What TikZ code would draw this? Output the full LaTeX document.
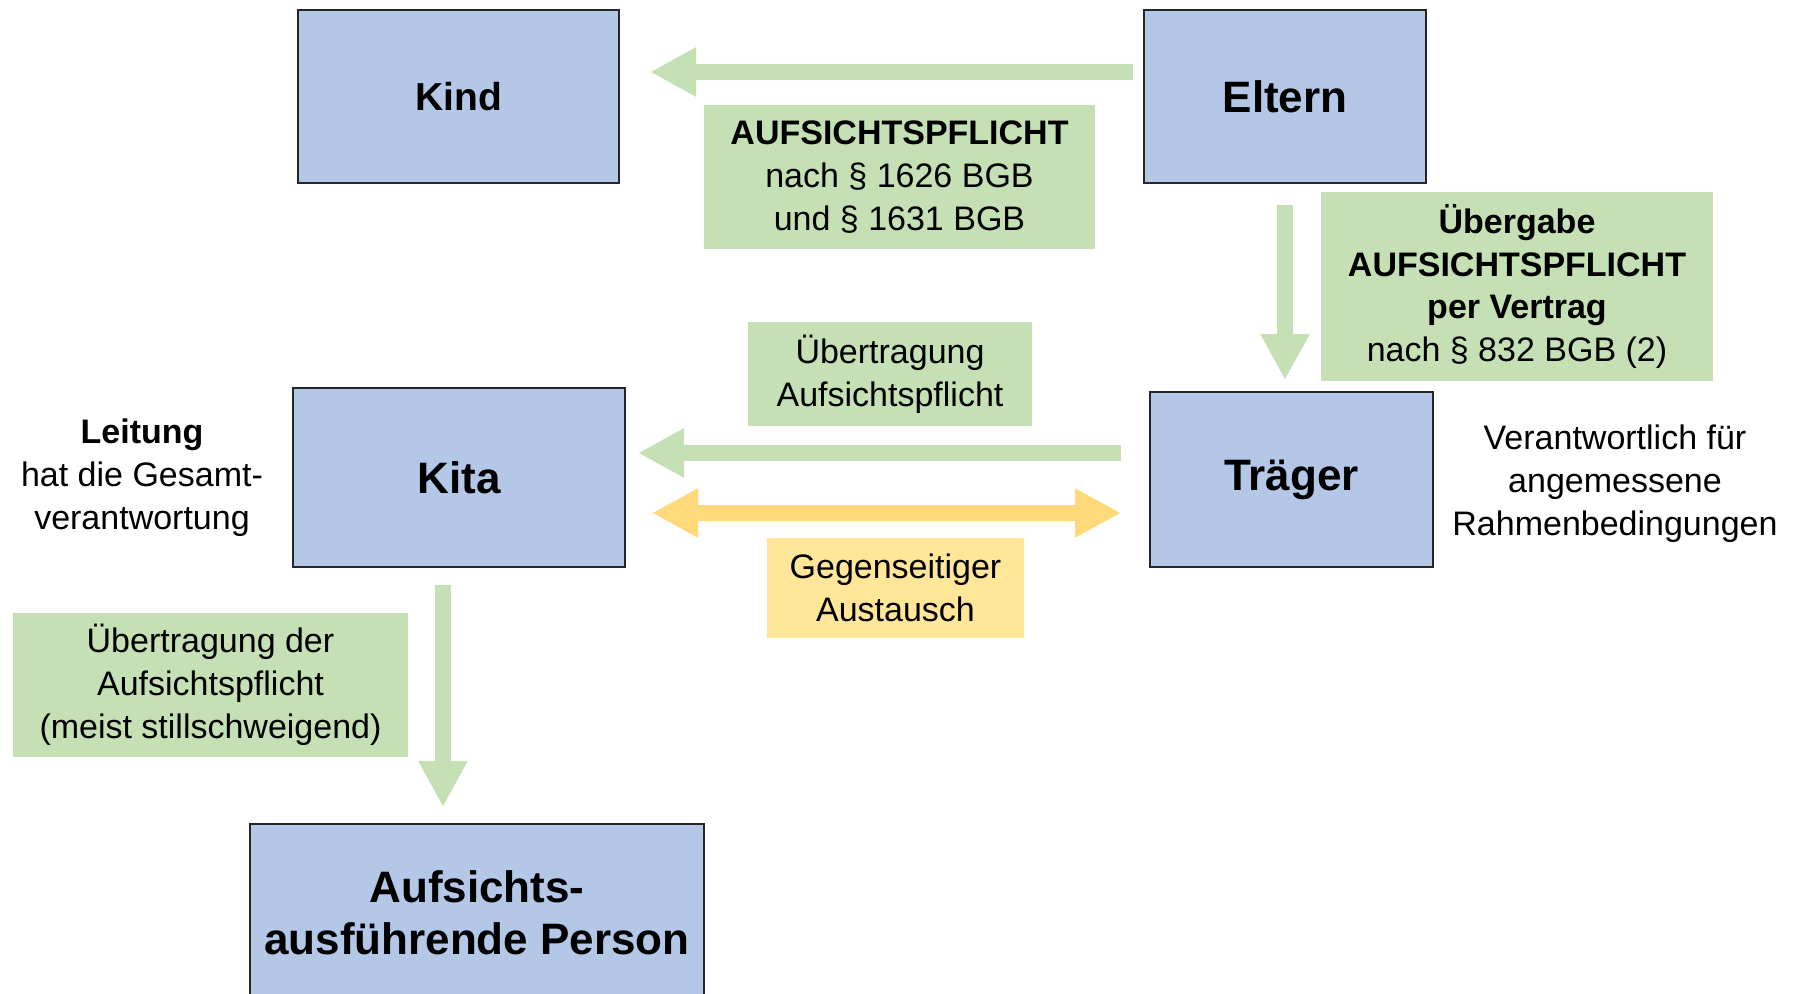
\documentclass[tikz,border=0pt]{standalone}
\usepackage{fontspec}
\setmainfont{Liberation Sans}
\usetikzlibrary{arrows.meta,calc,positioning}
\definecolor{boxblue}{HTML}{B4C7E7}
\definecolor{notegreen}{HTML}{C5E0B4}
\definecolor{noteyellow}{HTML}{FFE699}
\definecolor{arrowyellow}{HTML}{FFD97A}
\tikzset{
  partybox/.style={draw=black!85, line width=1pt, fill=boxblue, inner sep=0pt,
    align=center, font=\fontsize{22}{25.8}\selectfont\bfseries},
  notebox/.style={fill=notegreen, inner sep=0pt, align=center,
    font=\fontsize{17}{21.4}\selectfont},
  sidetext/.style={inner sep=0pt, align=center, font=\fontsize{17}{21.4}\selectfont},
  flow/.style={notegreen, line width=8pt, -{Triangle[length=23pt,width=23pt]}},
  exchange/.style={arrowyellow, line width=8pt,
    {Triangle[length=23pt,width=23pt]}-{Triangle[length=23pt,width=23pt]}},
}

\begin{document}
\begin{tikzpicture}[x=0.5pt, y=-0.5pt]
    \useasboundingbox (0,0) rectangle (1796,994);
    % Parties
    \node[partybox, minimum width=160.5pt, minimum height=86.5pt,
          font=\fontsize{19.5}{23}\selectfont\bfseries] (kind) at (458.5,96.5) {Kind};
    \node[partybox, minimum width=141pt, minimum height=86.5pt] (eltern) at (1285,96.5) {Eltern};
    \node[partybox, minimum width=166pt, minimum height=89.5pt] (kita) at (459,477.5) {Kita};
    \node[partybox, minimum width=141.5pt, minimum height=87.5pt] (traeger) at (1291.5,479.5) {Träger};
    \node[partybox, minimum width=227pt, minimum height=89pt] (person) at (477,913)
         {Aufsichts-\\ausführende Person};
    % Notes
    \node[notebox, minimum width=195.5pt, minimum height=72pt] (pflicht) at (899.5,177)
         {\textbf{AUFSICHTSPFLICHT}\\nach § 1626 BGB\\und § 1631 BGB};
    \node[notebox, minimum width=196pt, minimum height=94.5pt] (uebergabe) at (1517,286.5)
         {\textbf{Übergabe}\\\textbf{AUFSICHTSPFLICHT}\\\textbf{per Vertrag}\\nach § 832 BGB (2)};
    \node[notebox, minimum width=142pt, minimum height=52pt] (uebertragung) at (890,374)
         {Übertragung\\Aufsichtspflicht};
    \node[notebox, fill=noteyellow, minimum width=128.5pt, minimum height=50pt] (austausch) at (895.5,588)
         {Gegenseitiger\\Austausch};
    \node[notebox, minimum width=197.5pt, minimum height=72pt] (still) at (210.5,685)
         {Übertragung der\\Aufsichtspflicht\\(meist stillschweigend)};
    \node[sidetext] (leitung) at (142,478) {\textbf{Leitung}\\hat die Gesamt-\\verantwortung};
    \node[sidetext] (rahmen) at (1615,484) {Verantwortlich für\\angemessene\\Rahmenbedingungen};
    % Arrows
    \coordinate (eltern out) at ([yshift=12.25pt]eltern.west);
    \coordinate (traeger out) at ([yshift=13.25pt]traeger.west);
    \coordinate (traeger swap) at ([yshift=-16.75pt]traeger.west);
    \coordinate (kita out) at ([xshift=-8pt]kita.south);
    \draw[flow, shorten <=5pt, shorten >=15pt] (eltern out) -- (kind.east |- eltern out);
    \draw[flow, shorten <=10.5pt, shorten >=5.5pt] (eltern.south) -- (eltern.south |- traeger.north);
    \draw[flow, shorten <=14pt, shorten >=6pt] (traeger out) -- (kita.east |- traeger out);
    \draw[exchange, shorten <=13pt, shorten >=14pt] (kita.east |- traeger swap) -- (traeger swap);
    \draw[flow, shorten <=8.5pt, shorten >=8pt] (kita out) -- (kita out |- person.north);
\end{tikzpicture}
\end{document}
